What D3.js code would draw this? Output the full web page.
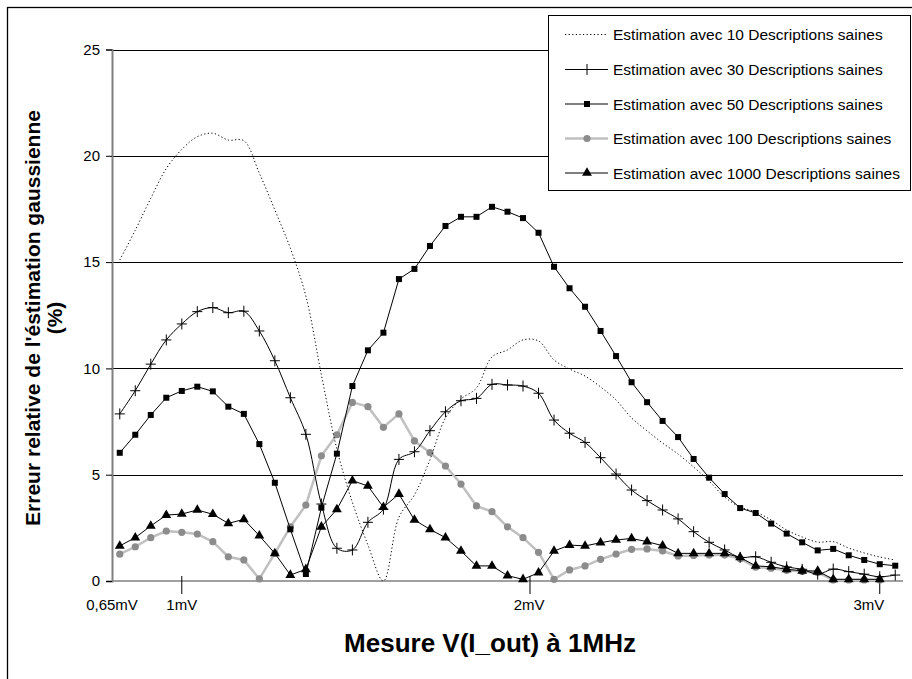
<!DOCTYPE html>
<html><head><meta charset="utf-8">
<script src="https://cdn.jsdelivr.net/npm/d3@7/dist/d3.min.js"></script>
<style>body{margin:0;background:#fff;} svg{display:block;font-family:"Liberation Sans",Arial,sans-serif;}</style>
</head><body>
<script>
// ---- data ----
const seriesNames = [
  "Estimation avec 10 Descriptions saines",
  "Estimation avec 30 Descriptions saines",
  "Estimation avec 50 Descriptions saines",
  "Estimation avec 100 Descriptions saines",
  "Estimation avec 1000 Descriptions saines"
];
const s10 = [15.1,16.5,18.0,19.4,20.3,20.9,21.06,20.74,20.71,19.18,17.45,15.65,13.4,9.7,6.2,3.7,1.7,0.0,3.0,4.05,5.7,7.67,8.56,9.08,10.54,10.87,11.34,11.29,10.4,9.97,9.64,9.13,8.51,7.67,7.06,6.49,5.97,5.36,4.70,3.95,3.48,3.25,2.87,2.4,2.07,1.83,1.85,1.55,1.32,1.13,0.99];
const s30 = [7.86,8.95,10.2,11.34,12.09,12.67,12.86,12.62,12.69,11.76,10.36,8.62,6.9,3.62,1.54,1.46,2.76,3.38,5.72,6.08,7.07,7.96,8.48,8.59,9.25,9.22,9.17,8.83,7.57,6.95,6.52,5.8,5.03,4.28,3.78,3.34,2.92,2.32,1.82,1.46,1.11,1.14,0.88,0.66,0.55,0.32,0.56,0.44,0.32,0.2,0.28];
const s50 = [6.03,6.88,7.81,8.62,8.94,9.14,8.92,8.2,7.86,6.44,4.62,2.43,0.33,3.45,5.99,9.17,10.85,11.68,14.2,14.68,15.76,16.7,17.13,17.13,17.6,17.37,17.07,16.38,14.78,13.77,12.9,11.76,10.58,9.35,8.41,7.53,6.77,5.74,4.86,4.09,3.43,3.2,2.7,2.23,1.82,1.44,1.51,1.21,0.99,0.79,0.72];
const s100 = [1.26,1.61,2.04,2.35,2.29,2.21,1.85,1.14,0.99,0.1,1.3,2.55,3.57,5.89,6.88,8.4,8.2,7.23,7.86,6.59,6.04,5.41,4.56,3.53,3.26,2.55,2.04,1.35,0.08,0.52,0.71,1.02,1.27,1.49,1.51,1.41,1.18,1.2,1.22,1.22,1.05,0.65,0.6,0.5,0.45,0.4,0.05,0.05,0.05,0.05];
const s1000 = [1.65,2.04,2.59,3.1,3.15,3.34,3.14,2.71,2.9,2.13,1.3,0.28,0.55,2.55,3.37,4.72,4.47,3.47,4.09,2.87,2.43,2.04,1.41,0.71,0.71,0.25,0.08,0.39,1.41,1.69,1.65,1.8,1.93,2.0,1.85,1.66,1.3,1.3,1.3,1.3,1.11,0.71,0.67,0.55,0.48,0.47,0.08,0.08,0.08,0.08];
const yTicks = [0,5,10,15,20,25];
const xTickLabels = ["0,65mV","1mV","2mV","3mV"];
const xLabelPos = [-0.5,4,26.4,48.3];   // category-index positions of the labels
const xTickPos = [4,26.45,49];           // category-index positions of tick marks
const nCategories = 51;

// ---- layout ----
const W = 912, H = 679;
const svg = d3.select("body").append("svg").attr("width", W).attr("height", H);
const x = d3.scaleLinear().domain([-0.5, nCategories - 0.5]).range([112, 903]);
const y = d3.scaleLinear().domain([0, 25]).range([581, 49.5]);

// outer frame (cropped)
svg.append("rect").attr("x", 7.5).attr("y", 7.5).attr("width", 1000).attr("height", 1000)
  .attr("fill", "none").attr("stroke", "#000").attr("stroke-width", 1.3);

// gridlines
svg.append("g").selectAll("line").data(yTicks.filter(d => d > 0)).join("line")
  .attr("x1", x.range()[0]).attr("x2", x.range()[1])
  .attr("y1", d => Math.round(y(d)) + 0.5).attr("y2", d => Math.round(y(d)) + 0.5)
  .attr("stroke", "#000").attr("stroke-width", 1);

// y axis
const yAxis = svg.append("g").attr("transform", "translate(112,0)")
  .call(d3.axisLeft(y).tickValues(yTicks).tickSize(6).tickPadding(6).tickFormat(d3.format("d")));
yAxis.select(".domain").attr("stroke", "#808080").attr("stroke-width", 2);
yAxis.selectAll(".tick line").attr("stroke", "#000");
yAxis.selectAll(".tick text").attr("font-size", 15).attr("fill", "#000")
  .attr("font-family", "Liberation Sans, Arial, sans-serif");

// x baseline
svg.append("line").attr("x1", x.range()[0]).attr("x2", x.range()[1])
  .attr("y1", y(0)).attr("y2", y(0)).attr("stroke", "#808080").attr("stroke-width", 1.5);
// x ticks
svg.append("g").selectAll("line").data(xTickPos).join("line")
  .attr("x1", d => x(d)).attr("x2", d => x(d)).attr("y1", y(0) - 5).attr("y2", y(0) + 13)
  .attr("stroke", "#000").attr("stroke-width", 1);
svg.append("g").selectAll("text").data(xTickLabels).join("text")
  .attr("x", (d, i) => x(xLabelPos[i])).attr("y", 610).attr("text-anchor", "middle")
  .attr("font-size", 15).text(d => d);

// titles
svg.append("text").attr("x", 490).attr("y", 652).attr("text-anchor", "middle")
  .attr("font-size", 26).attr("font-weight", "bold").text("Mesure V(I_out) à 1MHz");
const yt = svg.append("text").attr("transform", "translate(40,318) rotate(-90)")
  .attr("text-anchor", "middle").attr("font-size", 21).attr("font-weight", "bold");
yt.append("tspan").attr("x", 0).attr("y", 0).text("Erreur relative de l'éstimation gaussienne");
yt.append("tspan").attr("x", 0).attr("y", 22).text("(%)");

// ---- series ----
const pts = arr => arr.map((v, i) => [x(i), y(v)]);
const lineStraight = d3.line();
const lineSmooth = d3.line().curve(d3.curveCatmullRom.alpha(0.5));

// 100 (gray)
svg.append("path").attr("d", lineStraight(pts(s100))).attr("fill", "none")
  .attr("stroke", "#c0c0c0").attr("stroke-width", 2.5);
svg.append("g").selectAll("circle").data(s100).join("circle")
  .attr("cx", (d, i) => x(i)).attr("cy", d => y(d)).attr("r", 3.6).attr("fill", "#8c8c8c");

// 10 (dotted)
svg.append("path").attr("d", lineSmooth(pts(s10))).attr("fill", "none")
  .attr("stroke", "#000").attr("stroke-width", 1).attr("stroke-dasharray", "1.2,2.4");

// 30 (plus, smooth)
svg.append("path").attr("d", lineSmooth(pts(s30))).attr("fill", "none")
  .attr("stroke", "#000").attr("stroke-width", 1);
svg.append("g").selectAll("path").data(s30).join("path")
  .attr("transform", (d, i) => `translate(${x(i)},${y(d)})`)
  .attr("d", "M-5,0H5M0,-5.5V5.5").attr("stroke", "#000").attr("stroke-width", 1);

// 50 (squares)
svg.append("path").attr("d", lineStraight(pts(s50))).attr("fill", "none")
  .attr("stroke", "#000").attr("stroke-width", 1);
svg.append("g").selectAll("rect").data(s50).join("rect")
  .attr("x", (d, i) => x(i) - 3).attr("y", d => y(d) - 3).attr("width", 6).attr("height", 6).attr("fill", "#000");

// 1000 (triangles)
svg.append("path").attr("d", lineStraight(pts(s1000))).attr("fill", "none")
  .attr("stroke", "#000").attr("stroke-width", 1);
const tri = d3.symbol().type(d3.symbolTriangle).size(42);
svg.append("g").selectAll("path").data(s1000).join("path")
  .attr("transform", (d, i) => `translate(${x(i)},${y(d)})`).attr("d", tri()).attr("fill", "#000");

// ---- legend ----
const lg = svg.append("g");
lg.append("rect").attr("x", 548.5).attr("y", 15.5).attr("width", 362).attr("height", 175)
  .attr("fill", "#fff").attr("stroke", "#000").attr("stroke-width", 1);
const rowY = [34.5, 69.5, 104, 138.5, 173];
seriesNames.forEach((name, k) => {
  const g = lg.append("g").attr("transform", `translate(0,${rowY[k]})`);
  const ln = g.append("line").attr("x1", 565).attr("x2", 608).attr("y1", 0).attr("y2", 0);
  if (k === 0) ln.attr("stroke", "#000").attr("stroke-dasharray", "1.2,2.4");
  else if (k === 3) ln.attr("stroke", "#c0c0c0").attr("stroke-width", 2.5);
  else ln.attr("stroke", "#000");
  if (k === 1) g.append("path").attr("d", "M582,0H592M587,-5.5V5.5").attr("stroke", "#000");
  if (k === 2) g.append("rect").attr("x", 584).attr("y", -3).attr("width", 6).attr("height", 6);
  if (k === 3) g.append("circle").attr("cx", 587).attr("cy", 0).attr("r", 3.6).attr("fill", "#8c8c8c");
  if (k === 4) g.append("path").attr("transform", "translate(587,0)").attr("d", tri());
  g.append("text").attr("x", 613).attr("y", 5.5).attr("font-size", 15.5).text(name);
});
</script>
</body></html>
